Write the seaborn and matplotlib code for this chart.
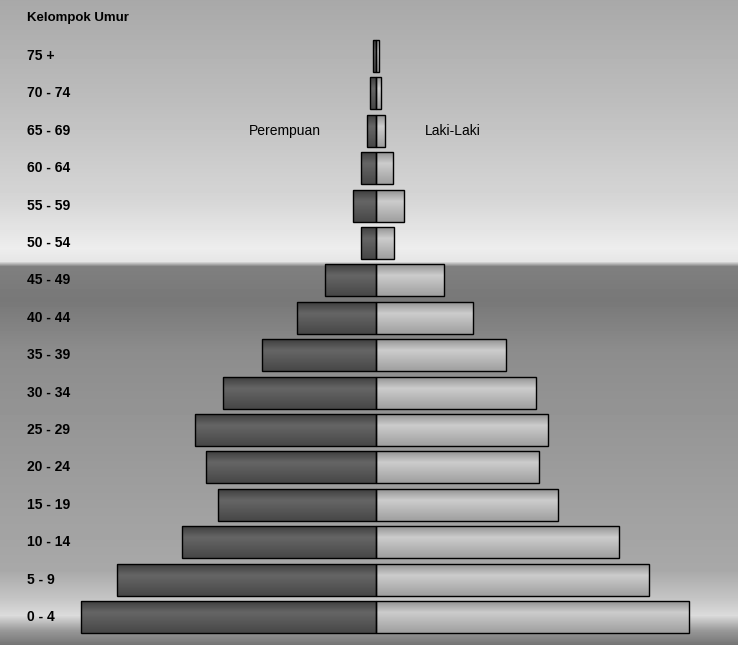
import numpy as np
import pandas as pd
import seaborn as sns
import matplotlib.pyplot as plt
import matplotlib.transforms as mtransforms

# data (relative widths)
umur = ['75 +', '70 - 74', '65 - 69', '60 - 64', '55 - 59', '50 - 54', '45 - 49',
        '40 - 44', '35 - 39', '30 - 34', '25 - 29', '20 - 24', '15 - 19',
        '10 - 14', '5 - 9', '0 - 4']
perempuan = [3.5, 6, 9, 15, 23, 15, 51, 79, 114, 153, 181, 170, 158, 194, 259, 295]
laki = [2.5, 5, 9, 17, 28, 18, 68, 97, 130, 160, 172, 163, 182, 243, 273, 313]

df = pd.concat([
    pd.DataFrame({'umur': umur, 'nilai': [-v for v in perempuan], 'jk': 'Perempuan'}),
    pd.DataFrame({'umur': umur, 'nilai': laki, 'jk': 'Laki-Laki'}),
])

sns.set_style('white')
plt.rcParams['font.family'] = ['Liberation Sans Narrow', 'Liberation Sans', 'DejaVu Sans']
plt.rcParams['text.color'] = 'black'

fig = plt.figure(figsize=(7.38, 6.45), dpi=100)
ax = fig.add_axes([0, 0, 1, 1])

sns.barplot(data=df, x='nilai', y='umur', hue='jk', order=umur, dodge=False,
            palette={'Perempuan': '#555555', 'Laki-Laki': '#b0b0b0'},
            width=0.855, edgecolor='black', linewidth=1.0, legend=False, ax=ax)

ax.set_xlim(-376, 362)
ax.set_ylim(15.75, -1.5)
ax.axis('off')

# background shading
stops_y = [0, 100, 200, 248, 261, 266, 300, 350, 450, 570, 600, 615, 630, 645]
stops_g = [0.66, 0.74, 0.84, 0.93, 0.90, 0.50, 0.47, 0.55, 0.60, 0.66, 0.78, 0.86, 0.60, 0.45]
yy = np.arange(645)
bg = np.interp(yy, stops_y, stops_g)[:, None] * np.ones((1, 2))
ax.imshow(bg, cmap='gray', vmin=0, vmax=1, extent=[0, 1, 0, 1], transform=ax.transAxes,
          aspect='auto', zorder=0)

# cylinder shading on bars
t = np.linspace(0, 1, 40)
shade = np.interp(t, [0, 0.35, 1], [0.0, 1.0, 0.2])[:, None] * np.ones((1, 2))
for p in ax.patches:
    x0, y0, w, h = p.get_x(), p.get_y(), p.get_width(), p.get_height()
    if w < 0:
        g = 0.25 + 0.15 * shade
    else:
        g = 0.58 + 0.22 * shade
    im = ax.imshow(g, cmap='gray', vmin=0, vmax=1,
                   extent=[min(x0, x0 + w), max(x0, x0 + w), y0 + h, y0],
                   aspect='auto', zorder=p.get_zorder() + 0.1)
    im.set_clip_path(p)
    p.set_facecolor('none')
    p.set_zorder(p.get_zorder() + 0.2)

ax.set_xlim(-376, 362)
ax.set_ylim(15.75, -1.5)

# age labels
tr = mtransforms.blended_transform_factory(ax.transAxes, ax.transData)
for i, lab in enumerate(umur):
    ax.text(27 / 738, i, lab, transform=tr, ha='left', va='center',
            fontsize=10, fontweight='bold', color='black')

ax.text(27 / 738, 1 - 18 / 645, 'Kelompok Umur', transform=ax.transAxes, ha='left',
        va='center', fontsize=9.5, fontweight='bold', color='black')
ax.text(-55, 2, 'Perempuan', ha='right', va='center', fontsize=10, color='black')
ax.text(49, 2, 'Laki-Laki', ha='left', va='center', fontsize=10, color='black')

plt.savefig('out.png', dpi=100)
